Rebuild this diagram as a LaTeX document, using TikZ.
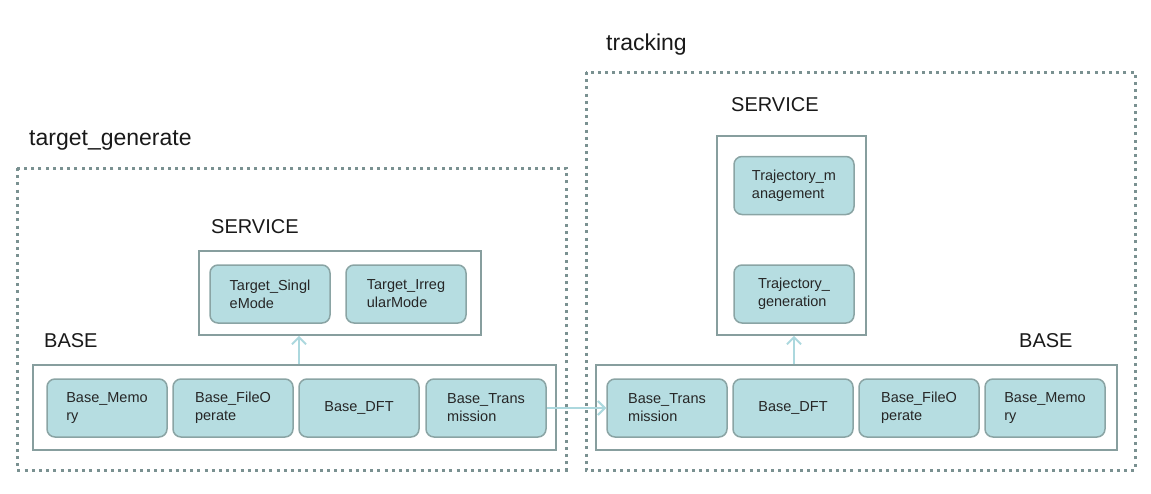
\documentclass[tikz,border=0pt]{standalone}
\usepackage{fontspec}
\setmainfont{Liberation Sans}
\usetikzlibrary{arrows.meta}
\definecolor{frame}{RGB}{122,145,145}
\definecolor{boxline}{RGB}{135,158,158}
\definecolor{nodefill}{RGB}{182,221,225}
\definecolor{nodeline}{RGB}{138,164,164}
\definecolor{arrowc}{RGB}{172,216,222}
\tikzset{
  outer/.style={draw=frame, line width=3pt, dash pattern=on 3pt off 4.2pt},
  group/.style={draw=boxline, line width=1.8pt},
  module/.style={draw=nodeline, fill=nodefill, line width=1.5pt, rounded corners=8pt,
    minimum width=120pt, minimum height=58pt, align=left, inner sep=0pt,
    font=\fontsize{14.5}{18}\selectfont, text=black!85},
  title/.style={anchor=west, font=\fontsize{23}{27}\selectfont, text=black!90, inner sep=0pt},
  layer/.style={anchor=west, font=\fontsize{20}{24}\selectfont, text=black!90, inner sep=0pt},
  link/.style={draw=arrowc, line width=2.5pt, -{Straight Barb[length=7pt,width=14pt,line width=2pt]}},
}
\begin{document}
\begin{tikzpicture}[x=1pt,y=-1pt]
\useasboundingbox (0,0) rectangle (1151,493);
% outer frames
\draw[outer] (17,168) rectangle (566,470);
\draw[outer] (586,72) rectangle (1135,470);
% titles
\node[title] (tg) at (29,140) {target\_generate};
\node[title] (tr) at (606,45) {tracking};
\node[layer] (svL) at (211,227) {SERVICE};
\node[layer] (svR) at (731,105) {SERVICE};
\node[layer] (bsL) at (44,341) {BASE};
\node[layer] (bsR) at (1019,341) {BASE};
% group boxes
\node[group, minimum width=282pt, minimum height=84pt, inner sep=0pt] (serL) at (340,293) {};
\node[group, minimum width=149pt, minimum height=199pt, inner sep=0pt] (serR) at (791.5,235.5) {};
\node[group, minimum width=523pt, minimum height=85pt, inner sep=0pt] (baseL) at (294.5,407.5) {};
\node[group, minimum width=521pt, minimum height=85pt, inner sep=0pt] (baseR) at (856.5,407.5) {};
% left service modules
\node[module] (tsm) at (270,294) {Target\_Singl\\eMode};
\node[module] (tim) at (406,294) {Target\_Irreg\\ularMode};
% left base modules
\node[module] (bm1) at (107,408) {Base\_Memo\\ry};
\node[module] (bf1) at (233,408) {Base\_FileO\\perate};
\node[module] (bd1) at (359,408) {Base\_DFT};
\node[module] (bt1) at (486,408) {Base\_Trans\\mission};
% right base modules
\node[module] (bt2) at (667,408) {Base\_Trans\\mission};
\node[module] (bd2) at (793,408) {Base\_DFT};
\node[module] (bf2) at (919,408) {Base\_FileO\\perate};
\node[module] (bm2) at (1045,408) {Base\_Memo\\ry};
% right service modules
\node[module] (tmg) at (794,185.5) {Trajectory\_m\\anagement};
\node[module] (tgn) at (794,294) {Trajectory\_\\generation};
% connectors
\draw[link] (baseL.north -| 299,0) -- (serL.south -| 299,0);
\draw[link] (baseR.north -| 794,0) -- (serR.south -| 794,0);
\draw[link] (bt1.east) -- (bt2.west);
\end{tikzpicture}
\end{document}
